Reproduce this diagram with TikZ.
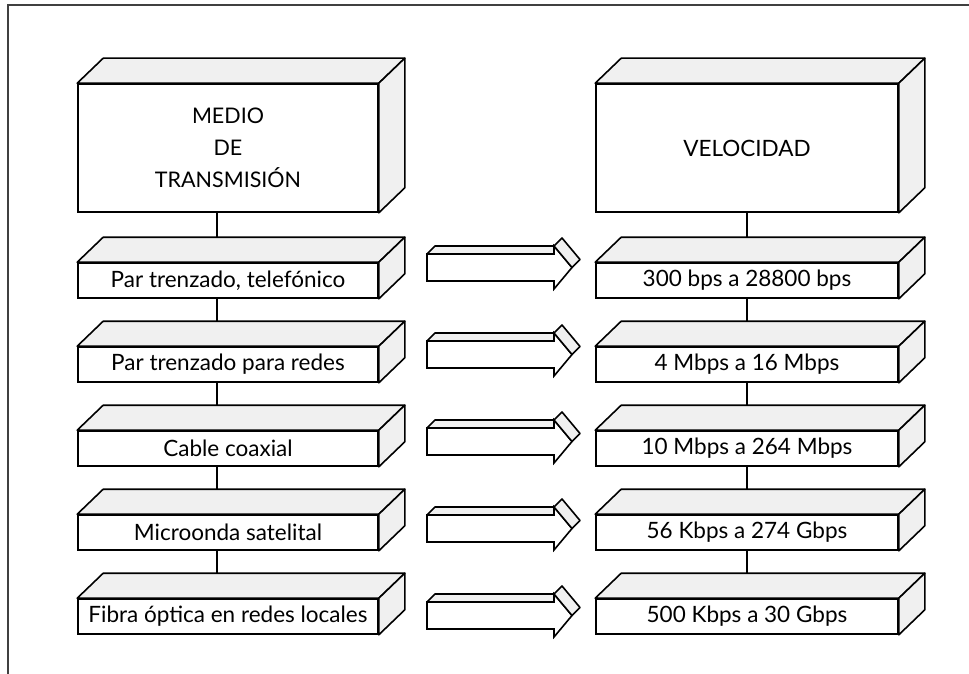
\documentclass[tikz,border=0pt]{standalone}
\usepackage{fontspec}
\setmainfont{Lato}
\usetikzlibrary{backgrounds}

\tikzset{
  caja/.style={draw, line width=1.6pt, fill=white, inner sep=0pt, minimum width=300pt,
    minimum height=35pt, align=center, font=\fontsize{22.5}{26}\selectfont},
  cara/.style={draw, line width=1.6pt, fill=black!6, line join=round},
  flecha/.style={draw, line width=1.6pt, fill=white},
  enlace/.style={line width=2.6pt},
}

% top and side faces of a slab
\newcommand{\caras}[1]{%
  \draw[cara] (#1.north west) -- ([shift={(26,-25)}]#1.north west)
    -- ([shift={(26,-25)}]#1.north east) -- (#1.north east) -- cycle;
  \draw[cara] (#1.north east) -- ([shift={(26,-25)}]#1.north east)
    -- ([shift={(26,-25)}]#1.south east) -- (#1.south east) -- cycle;
}

% block arrow, front top-left corner at (#1,#2)
\newcommand{\flechabloque}[2]{%
  \begin{scope}[shift={(#1,#2)}]
    \draw[flecha] (0,0) -- (127,0) -- (127,-8) -- (145,13.5) -- (127,35) -- (127,27) -- (0,27) -- cycle;
    \draw[cara] (0,0) -- (8,-8) -- (127,-8) -- (127,0) -- cycle;
    \draw[cara] (127,-8) -- (135,-16) -- (153,5.5) -- (145,13.5) -- cycle;
  \end{scope}
}

\begin{document}
\begin{tikzpicture}[x=1pt, y=-1pt]
    \useasboundingbox (0,0) rectangle (969,674);

    % Draw frame
    \draw[line width=1.3pt, black!75] (8,674) -- (8,5) -- (969,5);

    % Draw header boxes
    \node[caja, minimum height=128pt, font=\fontsize{21.5}{32}\selectfont] (medio) at (228,148)
        {MEDIO\\DE\\TRANSMISIÓN};
    \node[caja, minimum height=128pt, minimum width=302pt, font=\fontsize{22.5}{32}\selectfont] (veloc) at (747,148)
        {VELOCIDAD};
    \caras{medio}
    \caras{veloc}

    % Draw media boxes
    \foreach \t [count=\i] in {{Par trenzado, telefónico},{Par trenzado para redes},
        {Cable coaxial},{Microonda satelital},{Fibra óptica en redes locales}} {
        \node[caja] (m\i) at (228,{196.5+84*\i}) {\t};
        \caras{m\i}
    }

    % Draw speed boxes
    \foreach \t [count=\i] in {{300 bps a 28800 bps},{4 Mbps a 16 Mbps},
        {10 Mbps a 264 Mbps},{56 Kbps a 274 Gbps},{500 Kbps a 30 Gbps}} {
        \node[caja, minimum width=302pt] (v\i) at (747,{196.5+84*\i}) {\t};
        \caras{v\i}
    }

    % Draw block arrows
    \foreach \i in {0,...,4} {
        \flechabloque{427}{254+87*\i}
    }

    % Draw links behind the boxes
    \begin{scope}[on background layer]
        \draw[enlace] ([xshift=-11pt]medio.south) -- ([xshift=-11pt]m1.north);
        \draw[enlace] (veloc.south) -- (v1.north);
        \foreach \i/\j in {1/2,2/3,3/4,4/5} {
            \draw[enlace] ([xshift=-11pt]m\i.south) -- ([xshift=-11pt]m\j.north);
            \draw[enlace] (v\i.south) -- (v\j.north);
        }
    \end{scope}
\end{tikzpicture}
\end{document}
